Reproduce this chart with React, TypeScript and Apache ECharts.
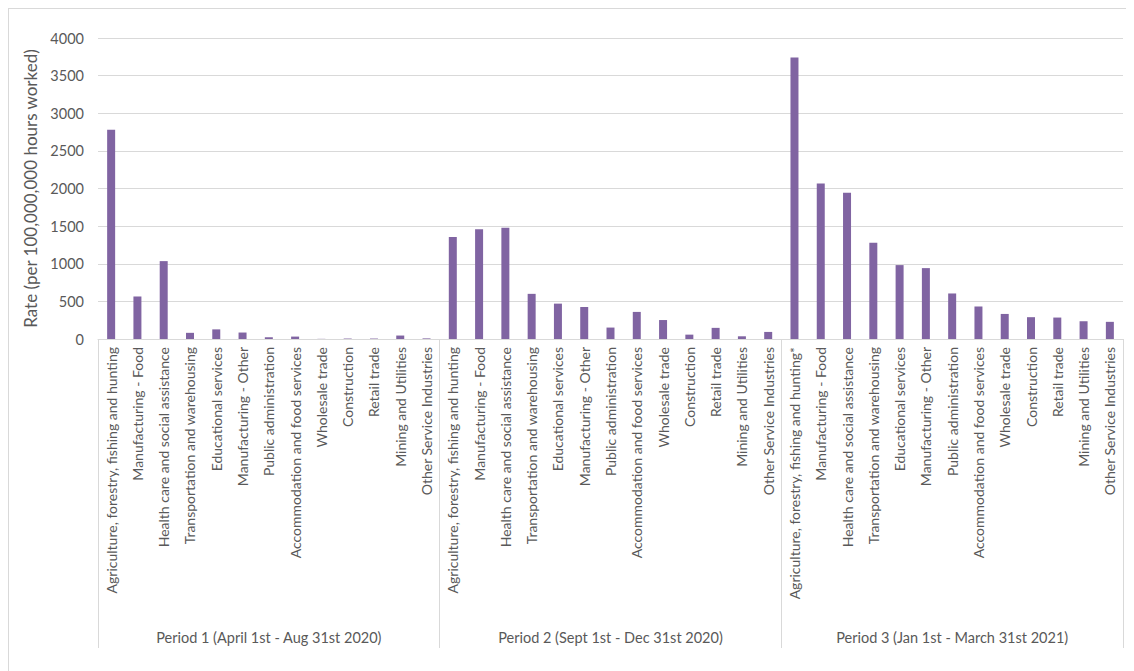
import React, { useEffect, useRef } from "react";
import * as echarts from "echarts";

const industries = [
  "Agriculture, forestry, fishing and hunting",
  "Manufacturing - Food",
  "Health care and social assistance",
  "Transportation and warehousing",
  "Educational services",
  "Manufacturing - Other",
  "Public administration",
  "Accommodation and food services",
  "Wholesale trade",
  "Construction",
  "Retail trade",
  "Mining and Utilities",
  "Other Service Industries",
];

const industriesP3 = [
  "Agriculture, forestry, fishing and hunting*",
  ...industries.slice(1),
];

const periods = [
  "Period 1 (April 1st - Aug 31st 2020)",
  "Period 2 (Sept 1st - Dec 31st 2020)",
  "Period 3 (Jan 1st - March 31st 2021)",
];

const period1 = [2780, 565, 1035, 82, 128, 86, 24, 32, 2, 6, 6, 46, 8];
const period2 = [1355, 1460, 1480, 600, 470, 425, 152, 360, 252, 58, 148, 36, 94];
const period3 = [3740, 2065, 1945, 1280, 982, 942, 605, 432, 333, 290, 285, 236, 228];

const yTicks = { min: 0, max: 4000, interval: 500 };

const categories = [...industries, ...industries, ...industriesP3];
const values = [...period1, ...period2, ...period3];

const FONT = "Lato";
const TEXT = "#595959";
const GRID = "#d9d9d9";

export default function App() {
  const ref = useRef<HTMLDivElement>(null);
  useEffect(() => {
    if (!ref.current) return;
    const chart = echarts.init(ref.current, null, { renderer: "svg" });
    chart.setOption({
      animation: false,
      backgroundColor: "#ffffff",
      grid: { left: 89, right: 11, top: 29, bottom: 332, containLabel: false },
      xAxis: [
        {
          type: "category",
          data: categories,
          axisLine: { show: true, lineStyle: { color: GRID, width: 1 } },
          axisTick: { show: false },
          axisLabel: {
            interval: 0,
            rotate: 90,
            color: TEXT,
            fontFamily: FONT,
            fontSize: 14,
            margin: 8,
          },
        },
        {
          type: "category",
          data: periods,
          position: "bottom",
          axisLine: { show: false },
          axisTick: {
            show: true,
            length: 309,
            interval: 0,
            lineStyle: { color: GRID, width: 1 },
          },
          axisLabel: {
            interval: 0,
            color: TEXT,
            fontFamily: FONT,
            fontSize: 14.5,
            margin: 291,
          },
        },
      ],
      yAxis: {
        type: "value",
        min: yTicks.min,
        max: yTicks.max,
        interval: yTicks.interval,
        name: "Rate (per 100,000,000 hours worked)",
        nameLocation: "middle",
        nameGap: 46,
        nameTextStyle: { color: TEXT, fontFamily: FONT, fontSize: 17 },
        axisLine: { show: false },
        axisTick: { show: false },
        axisLabel: {
          color: TEXT,
          fontFamily: FONT,
          fontSize: 14.5,
          margin: 14,
          formatter: (v: number) => String(v),
        },
        splitLine: { lineStyle: { color: GRID, width: 1 } },
      },
      series: [
        {
          type: "bar",
          data: values,
          barWidth: 8,
          itemStyle: { color: "#8064A2" },
        },
      ],
    });
    return () => chart.dispose();
  }, []);

  return (
    <div
      style={{
        width: 1126,
        height: 663,
        borderLeft: "1px solid #d9d9d9",
        borderTop: "1px solid #d9d9d9",
        boxSizing: "border-box",
      }}
    >
      <div ref={ref} style={{ width: 1125, height: 662 }} />
    </div>
  );
}
